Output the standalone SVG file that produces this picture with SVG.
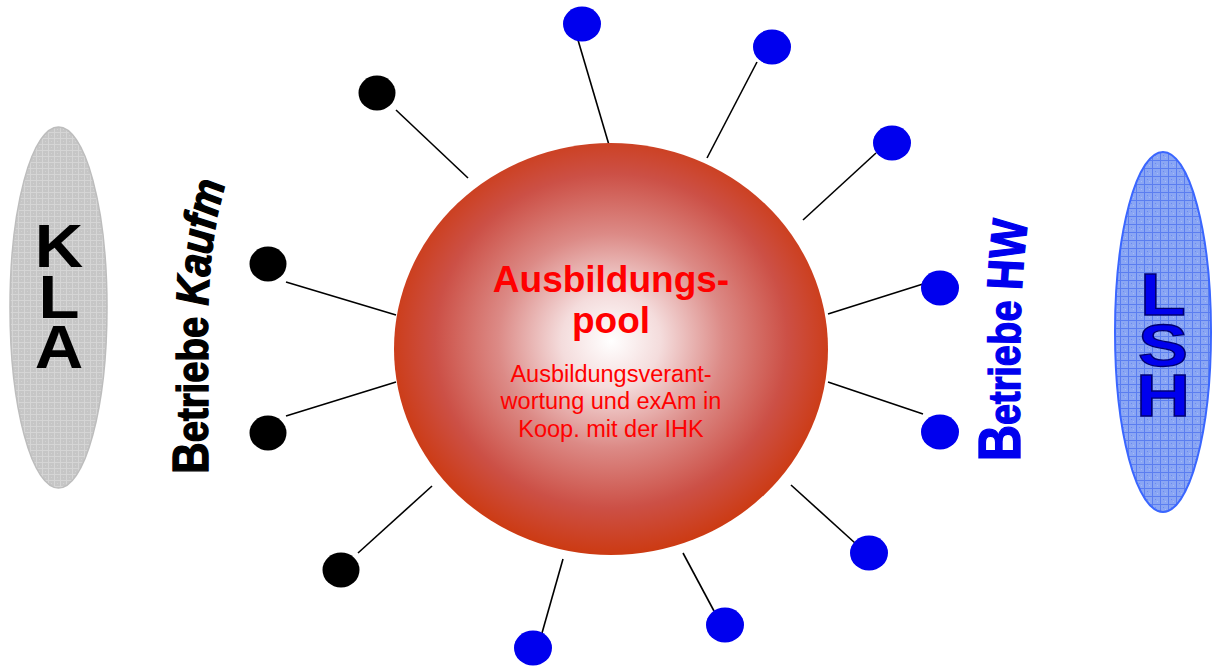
<svg xmlns="http://www.w3.org/2000/svg" width="1217" height="666" viewBox="0 0 1217 666">
<style>
.conn line{stroke:#000;stroke-width:1.6;}
.bdot{fill:#000;}
.udot{fill:#0000ee;}
.big{font-family:"Liberation Sans",Arial,sans-serif;}
.title{font-weight:bold;font-size:37px;fill:#ff0000;text-anchor:middle;}
.sub{font-size:23.5px;fill:#ff0000;text-anchor:middle;}
.kla{font-size:61px;font-weight:bold;fill:#000;text-anchor:middle;}
.lsh{font-size:60px;font-weight:bold;fill:#0000ee;stroke:#000070;stroke-width:1.3;text-anchor:middle;}
.sideK{font-weight:bold;fill:#000;stroke:#000;stroke-width:1.4;}
.sideH{font-weight:bold;fill:#0000ee;stroke:#0000ee;stroke-width:1.4;}
</style>
<defs>
<radialGradient id="ball" cx="0.5" cy="0.48" r="0.52">
 <stop offset="0" stop-color="#ffffff"/>
 <stop offset="0.22" stop-color="#f4dcdc"/>
 <stop offset="0.5" stop-color="#dc8a86"/>
 <stop offset="0.78" stop-color="#cc5046"/>
 <stop offset="1" stop-color="#cc3a12"/>
</radialGradient>
<pattern id="grayTex" width="6" height="6" patternUnits="userSpaceOnUse">
 <rect width="6" height="6" fill="#c6c6c6"/>
 <path d="M0 0.5H6M0.5 0V6" stroke="#d5d5d5" stroke-width="1"/>
 <rect x="3" y="3" width="1" height="1" fill="#d2d2d2"/>
</pattern>
<pattern id="blueTex" width="8" height="8" patternUnits="userSpaceOnUse">
 <rect width="8" height="8" fill="#8aa6f4"/>
 <path d="M0 0.5H8M0.5 0V8" stroke="#5b7ef0" stroke-width="1"/>
 <rect x="3" y="3" width="1" height="1" fill="#6a8af0"/>
 <rect x="5" y="5" width="1" height="1" fill="#a8bcf6"/>
</pattern>
<path id="pathL" d="M208,474 L208,290 Q209,200 227,136"/>
<path id="pathR" d="M1020,462 L1020,330 Q1020,250 1028,175"/>
</defs>

<g id="KLA">
 <ellipse cx="58.5" cy="307.5" rx="48.5" ry="180.5" fill="url(#grayTex)" stroke="#bdbdbd" stroke-width="1.5"/>
 <text class="big kla" transform="translate(59,0) scale(1.1,1) translate(-59,0)"><tspan x="59" y="267">K</tspan><tspan x="59" y="318">L</tspan><tspan x="59" y="368">A</tspan></text>
</g>

<g id="LSH">
 <ellipse cx="1163" cy="332" rx="48" ry="180" fill="url(#blueTex)" stroke="#3a66ff" stroke-width="2"/>
 <text class="big lsh" transform="translate(1163,0) scale(1.25,1) translate(-1163,0)"><tspan x="1163" y="315">L</tspan><tspan x="1163" y="366">S</tspan><tspan x="1163" y="416">H</tspan></text>
</g>

<g id="label-kaufm" transform="translate(0,472) scale(1,0.87) translate(0,-472)">
 <text class="big sideK" font-size="44" font-weight="700"><textPath href="#pathL"><tspan font-size="50">B</tspan>etriebe <tspan font-style="italic" font-size="46">Kaufm</tspan></textPath></text>
</g>

<g id="label-hw" transform="translate(0,458) scale(1,0.84) translate(0,-458)">
 <text class="big sideH" font-size="45" font-weight="700"><textPath href="#pathR"><tspan font-size="60">B</tspan>etriebe <tspan font-size="50">HW</tspan></textPath></text>
</g>

<g class="conn" id="connectors">
 <line x1="396" y1="110" x2="468" y2="178"/>
 <line x1="286" y1="282" x2="396" y2="315"/>
 <line x1="286" y1="416" x2="396" y2="382"/>
 <line x1="358" y1="553" x2="432" y2="486"/>
 <line x1="578" y1="40" x2="609" y2="145"/>
 <line x1="757" y1="62" x2="707" y2="158"/>
 <line x1="876" y1="153" x2="803" y2="220"/>
 <line x1="923" y1="284" x2="828" y2="314"/>
 <line x1="828" y1="382" x2="923" y2="414"/>
 <line x1="791" y1="485" x2="855" y2="543"/>
 <line x1="683" y1="553" x2="714" y2="611"/>
 <line x1="563" y1="559" x2="542" y2="633"/>
</g>

<g id="pool">
 <ellipse cx="611" cy="349" rx="217" ry="206" fill="url(#ball)"/>
 <text class="big title" x="611" y="292">Ausbildungs-</text>
 <text class="big title" x="611" y="333">pool</text>
 <text class="big sub" x="611" y="382">Ausbildungsverant-</text>
 <text class="big sub" x="611" y="409">wortung und exAm in</text>
 <text class="big sub" x="611" y="437">Koop. mit der IHK</text>
</g>

<g id="dot-k1"><ellipse class="bdot" cx="377" cy="93" rx="18.5" ry="17.5"/></g>
<g id="dot-k2"><ellipse class="bdot" cx="268" cy="264" rx="18.5" ry="17.5"/></g>
<g id="dot-k3"><ellipse class="bdot" cx="268" cy="433" rx="18.5" ry="17.5"/></g>
<g id="dot-k4"><ellipse class="bdot" cx="341" cy="570" rx="18.5" ry="17.5"/></g>

<g id="dot-h1"><ellipse class="udot" cx="582" cy="24" rx="19" ry="17.5"/></g>
<g id="dot-h2"><ellipse class="udot" cx="772" cy="47" rx="19" ry="17.5"/></g>
<g id="dot-h3"><ellipse class="udot" cx="892" cy="143" rx="19" ry="17.5"/></g>
<g id="dot-h4"><ellipse class="udot" cx="940" cy="288" rx="19" ry="17.5"/></g>
<g id="dot-h5"><ellipse class="udot" cx="940" cy="432" rx="19" ry="17.5"/></g>
<g id="dot-h6"><ellipse class="udot" cx="869" cy="553" rx="19" ry="17.5"/></g>
<g id="dot-h7"><ellipse class="udot" cx="725" cy="625" rx="19" ry="17.5"/></g>
<g id="dot-h8"><ellipse class="udot" cx="533" cy="648" rx="19" ry="17.5"/></g>
</svg>
